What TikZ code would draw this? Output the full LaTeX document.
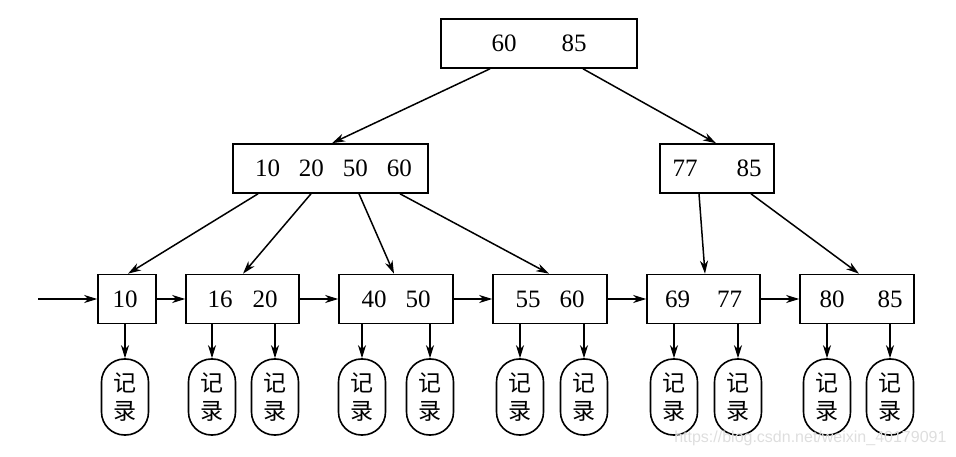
\documentclass[tikz,border=0pt]{standalone}
\usepackage{fontspec}
\setmainfont{Liberation Serif}
\newfontfamily\cjk{Noto Sans CJK SC}
\newfontfamily\wmfont{Liberation Sans}
\usetikzlibrary{arrows.meta}
\tikzset{
  box/.style={draw, line width=1.6pt, inner sep=0pt, minimum height=49pt, font=\fontsize{25}{30}\selectfont},
  rec/.style={draw, line width=1.6pt, rounded corners=23pt, minimum width=47pt, minimum height=76pt, inner sep=0pt, align=center, font=\cjk\fontsize{23}{28}\selectfont},
  arr/.style={line width=1.5pt, -{Stealth[length=13pt,width=8pt,inset=4pt]}},
}
\begin{document}
\begin{tikzpicture}[x=1pt,y=-1pt]
\useasboundingbox (0,0) rectangle (956,457);
% root
\node[box, minimum width=196pt] (root) at (539,43.5) {60\hspace{45pt}85};
% internal
\node[box, minimum width=195pt] (il) at (330.5,168.5) {\hspace{6pt}10\hspace{19pt}20\hspace{19pt}50\hspace{19pt}60};
\node[box, minimum width=114pt] (ir) at (717,168.5) {77\hspace{39pt}85};
% leaves
\node[box, minimum width=58pt] (l1) at (127,299) {\hspace{-4pt}10};
\node[box, minimum width=113pt] (l2) at (242.5,299) {16\hspace{20pt}20};
\node[box, minimum width=114pt] (l3) at (396,299) {40\hspace{19pt}50};
\node[box, minimum width=114pt] (l4) at (550,299) {55\hspace{19pt}60};
\node[box, minimum width=113pt] (l5) at (703.5,299) {69\hspace{27pt}77};
\node[box, minimum width=114pt] (l6) at (857,299) {\hspace{8pt}80\hspace{33pt}85};
% records
\node[rec] (r1)  at (125,397) {记\\录};
\node[rec] (r2)  at (212,397) {记\\录};
\node[rec] (r3)  at (275,397) {记\\录};
\node[rec] (r4)  at (362,397) {记\\录};
\node[rec] (r5)  at (430,397) {记\\录};
\node[rec] (r6)  at (520,397) {记\\录};
\node[rec] (r7)  at (584,397) {记\\录};
\node[rec] (r8)  at (674,397) {记\\录};
\node[rec] (r9)  at (738,397) {记\\录};
\node[rec] (r10) at (827,397) {记\\录};
\node[rec] (r11) at (890,397) {记\\录};
% tree arrows
\draw[arr] ([xshift=-49pt]root.south) -- ([xshift=1.5pt]il.north);
\draw[arr] ([xshift=44pt]root.south) -- ([xshift=-1pt]ir.north);
\draw[arr] ([xshift=-72.5pt]il.south) -- ([xshift=1pt]l1.north);
\draw[arr] ([xshift=-19.5pt]il.south) -- ([xshift=0.5pt]l2.north);
\draw[arr] ([xshift=28.5pt]il.south) -- ([xshift=-2pt]l3.north);
\draw[arr] ([xshift=69.5pt]il.south) -- ([xshift=-1pt]l4.north);
\draw[arr] ([xshift=-18pt]ir.south) -- ([xshift=1.5pt]l5.north);
\draw[arr] ([xshift=34pt]ir.south) -- ([xshift=2pt]l6.north);
% leaf chain
\coordinate (start) at (38,299);
\draw[arr] (start) -- (l1.west);
\draw[arr] (l1) -- (l2);
\draw[arr] (l2) -- (l3);
\draw[arr] (l3) -- (l4);
\draw[arr] (l4) -- (l5);
\draw[arr] (l5) -- (l6);
% records
\draw[arr] (l1.south -| r1) -- (r1.north);
\draw[arr] (l2.south -| r2) -- (r2.north);
\draw[arr] (l2.south -| r3) -- (r3.north);
\draw[arr] (l3.south -| r4) -- (r4.north);
\draw[arr] (l3.south -| r5) -- (r5.north);
\draw[arr] (l4.south -| r6) -- (r6.north);
\draw[arr] (l4.south -| r7) -- (r7.north);
\draw[arr] (l5.south -| r8) -- (r8.north);
\draw[arr] (l5.south -| r9) -- (r9.north);
\draw[arr] (l6.south -| r10) -- (r10.north);
\draw[arr] (l6.south -| r11) -- (r11.north);
% watermark
\node[text=black!13, font=\wmfont\fontsize{16}{18}\selectfont, anchor=east] (wm) at (950,438) {https://blog.csdn.net/weixin\_40179091};
\end{tikzpicture}
\end{document}
